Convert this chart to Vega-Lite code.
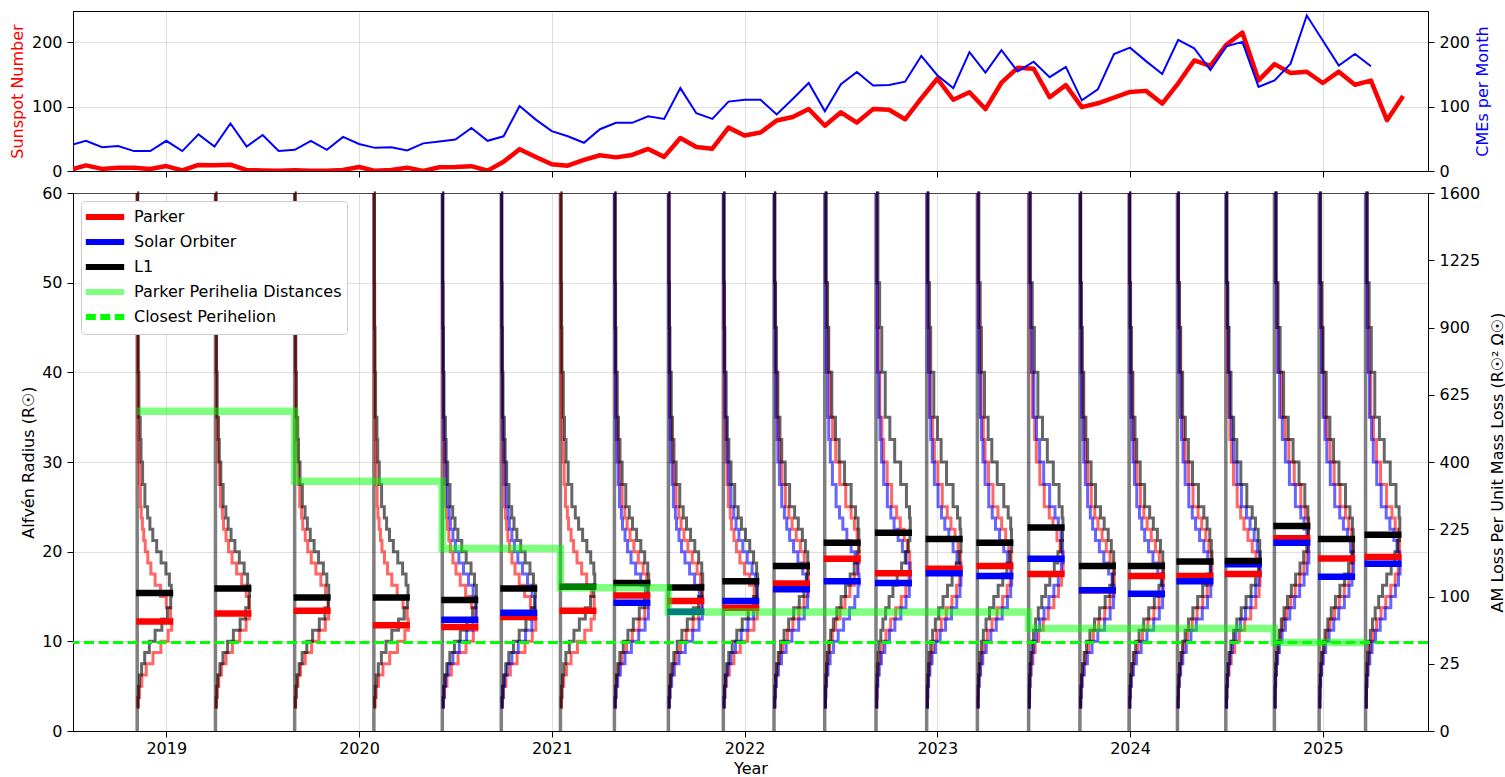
{
"$schema": "https://vega.github.io/schema/vega-lite/v6.json",
"padding": {"left": 8, "top": 10, "right": 0, "bottom": 0},
"background": "white",
"spacing": 22,
"bounds": "flush",
"resolve": {"scale": {"color": "independent", "strokeDash": "independent"}, "legend": {"color": "independent", "strokeDash": "independent"}},
"datasets": {
"ss": [{"t":[2018.5,2018.583,2018.667,2018.75,2018.833,2018.917,2019,2019.083,2019.167,2019.25,2019.333,2019.417,2019.5,2019.583,2019.667,2019.75,2019.833,2019.917,2020,2020.083,2020.167,2020.25,2020.333,2020.417,2020.5,2020.583,2020.667,2020.75,2020.833,2020.917,2021,2021.083,2021.167,2021.25,2021.333,2021.417,2021.5,2021.583,2021.667,2021.75,2021.833,2021.917,2022,2022.083,2022.167,2022.25,2022.333,2022.417,2022.5,2022.583,2022.667,2022.75,2022.833,2022.917,2023,2023.083,2023.167,2023.25,2023.333,2023.417,2023.5,2023.583,2023.667,2023.75,2023.833,2023.917,2024,2024.083,2024.167,2024.25,2024.333,2024.417,2024.5,2024.583,2024.667,2024.75,2024.833,2024.917,2025,2025.083,2025.167,2025.25,2025.333,2025.417],
"v":[1.6,8.7,3.3,4.9,4.9,3.1,7.7,0.8,9.4,9.1,9.9,1.2,0.9,0.5,1.1,0.4,0.5,1.5,6.2,0.2,1.5,5.2,0.2,5.8,6.1,7.5,0.6,14.4,34,21.8,10.4,8.2,17.2,24.5,21.2,25,34.3,22,51.3,37.4,34.8,67.5,55.3,59.9,78.5,84.1,96.5,70.5,91.4,75.4,96.3,95.4,80.5,113.1,143.6,110.9,122.6,96.4,137.4,160.5,159.1,114.8,133.6,99.4,105.4,114.2,123,124.7,104.9,136.5,172,163.6,196.6,215.5,141.1,166.3,152.5,154.5,137,154.6,134.2,140.6,79.1,116.6]}],
"cme": [{"t":[2018.5,2018.583,2018.667,2018.75,2018.833,2018.917,2019,2019.083,2019.167,2019.25,2019.333,2019.417,2019.5,2019.583,2019.667,2019.75,2019.833,2019.917,2020,2020.083,2020.167,2020.25,2020.333,2020.417,2020.5,2020.583,2020.667,2020.75,2020.833,2020.917,2021,2021.083,2021.167,2021.25,2021.333,2021.417,2021.5,2021.583,2021.667,2021.75,2021.833,2021.917,2022,2022.083,2022.167,2022.25,2022.333,2022.417,2022.5,2022.583,2022.667,2022.75,2022.833,2022.917,2023,2023.083,2023.167,2023.25,2023.333,2023.417,2023.5,2023.583,2023.667,2023.75,2023.833,2023.917,2024,2024.083,2024.167,2024.25,2024.333,2024.417,2024.5,2024.583,2024.667,2024.75,2024.833,2024.917,2025,2025.083,2025.167,2025.25],
"v":[40,47,37,39,31,31,47,31,57,38,74,38,56,31,33,47,33,53,42,36,37,32,43,46,49,67,47,54,101,80,62,54,44,65,75,75,85,81,129,90,81,108,111,111,88,112,137,93,135,154,133,134,139,179,149,129,185,153,188,155,170,146,162,110,127,182,192,171,151,204,191,157,194,201,131,141,167,242,203,164,182,163]}],
"enc": [{"t":2018.849},{"t":2019.255},{"t":2019.666},{"t":2020.077},{"t":2020.432},{"t":2020.738},{"t":2021.045},{"t":2021.325},{"t":2021.605},{"t":2021.89},{"t":2022.153},{"t":2022.416},{"t":2022.682},{"t":2022.945},{"t":2023.208},{"t":2023.474},{"t":2023.74},{"t":2023.995},{"t":2024.246},{"t":2024.497},{"t":2024.749},{"t":2024.981},{"t":2025.222}],
"peri": [{"s":"Parker Perihelia Distances","t":2018.849,"r":35.66},{"s":"Parker Perihelia Distances","t":2019.255,"r":35.66},{"s":"Parker Perihelia Distances","t":2019.666,"r":35.66},{"s":"Parker Perihelia Distances","t":2020.077,"r":27.85},{"s":"Parker Perihelia Distances","t":2020.432,"r":27.85},{"s":"Parker Perihelia Distances","t":2020.738,"r":20.35},{"s":"Parker Perihelia Distances","t":2021.045,"r":20.35},{"s":"Parker Perihelia Distances","t":2021.325,"r":15.98},{"s":"Parker Perihelia Distances","t":2021.605,"r":15.98},{"s":"Parker Perihelia Distances","t":2021.89,"r":13.28},{"s":"Parker Perihelia Distances","t":2022.153,"r":13.28},{"s":"Parker Perihelia Distances","t":2022.416,"r":13.28},{"s":"Parker Perihelia Distances","t":2022.682,"r":13.28},{"s":"Parker Perihelia Distances","t":2022.945,"r":13.28},{"s":"Parker Perihelia Distances","t":2023.208,"r":13.28},{"s":"Parker Perihelia Distances","t":2023.474,"r":13.28},{"s":"Parker Perihelia Distances","t":2023.74,"r":11.44},{"s":"Parker Perihelia Distances","t":2023.995,"r":11.44},{"s":"Parker Perihelia Distances","t":2024.246,"r":11.44},{"s":"Parker Perihelia Distances","t":2024.497,"r":11.44},{"s":"Parker Perihelia Distances","t":2024.749,"r":11.44},{"s":"Parker Perihelia Distances","t":2024.981,"r":9.86},{"s":"Parker Perihelia Distances","t":2025.222,"r":9.86}],
"closest": [{"s":"Closest Perihelion","r":9.86}],
"tpl": [
{"c":"A","r":[2.5,3.75,5,6.25,7.5,8.75,10,11.25,12.5,13.75,15,16.25,17.5,18.75,20,21.25,22.5,23.75,25,27.5,30,32.5,35,40,45,50,60],"w":[0.006,0.012,0.024,0.047,0.082,0.123,0.161,0.179,0.173,0.151,0.121,0.093,0.071,0.055,0.042,0.034,0.027,0.021,0.017,0.012,0.008,0.006,0.004,0.003,0.002,0.001,0]},
{"c":"B","r":[2.5,3.75,5,6.25,7.5,8.75,10,11.25,12.5,13.75,15,16.25,17.5,18.75,20,21.25,22.5,23.75,25,27.5,30,32.5,35,40,45,50,60],"w":[0.005,0.009,0.017,0.031,0.055,0.088,0.126,0.159,0.176,0.175,0.16,0.136,0.11,0.086,0.068,0.055,0.042,0.036,0.026,0.019,0.014,0.009,0.006,0.004,0.003,0.002,0]},
{"c":"C","r":[2.5,3.75,5,6.25,7.5,8.75,10,11.25,12.5,13.75,15,16.25,17.5,18.75,20,21.25,22.5,23.75,25,27.5,30,32.5,35,40,45,50,60],"w":[0.004,0.007,0.012,0.023,0.039,0.063,0.093,0.128,0.157,0.174,0.177,0.167,0.149,0.124,0.101,0.081,0.066,0.054,0.04,0.028,0.02,0.016,0.009,0.006,0.004,0.003,0]},
{"c":"D","r":[2.5,3.75,5,6.25,7.5,8.75,10,11.25,12.5,13.75,15,16.25,17.5,18.75,20,21.25,22.5,23.75,25,27.5,30,32.5,35,40,45,50,60],"w":[0.004,0.006,0.01,0.017,0.028,0.046,0.07,0.098,0.129,0.156,0.173,0.178,0.173,0.157,0.137,0.115,0.094,0.077,0.059,0.04,0.029,0.021,0.015,0.008,0.006,0.004,0]},
{"c":"E","r":[2.5,3.75,5,6.25,7.5,8.75,10,11.25,12.5,13.75,15,16.25,17.5,18.75,20,21.25,22.5,23.75,25,27.5,30,32.5,35,40,45,50,60],"w":[0.004,0.005,0.008,0.013,0.022,0.034,0.052,0.076,0.102,0.131,0.155,0.171,0.179,0.175,0.163,0.147,0.126,0.107,0.081,0.058,0.04,0.031,0.02,0.013,0.008,0.004,0]},
{"c":"F","r":[2.5,3.75,5,6.25,7.5,8.75,10,11.25,12.5,13.75,15,16.25,17.5,18.75,20,21.25,22.5,23.75,25,27.5,30,32.5,35,40,45,50,60],"w":[0.004,0.005,0.007,0.011,0.017,0.026,0.04,0.057,0.08,0.105,0.131,0.154,0.17,0.179,0.176,0.168,0.154,0.137,0.109,0.078,0.057,0.041,0.027,0.017,0.011,0.006,0]},
{"c":"G","r":[2.5,3.75,5,6.25,7.5,8.75,10,11.25,12.5,13.75,15,16.25,17.5,18.75,20,21.25,22.5,23.75,25,27.5,30,32.5,35,40,45,50,60],"w":[0.004,0.004,0.006,0.009,0.013,0.021,0.031,0.045,0.063,0.085,0.108,0.132,0.153,0.169,0.178,0.177,0.173,0.16,0.137,0.103,0.075,0.056,0.037,0.021,0.015,0.008,0]},
{"c":"H","r":[2.5,3.75,5,6.25,7.5,8.75,10,11.25,12.5,13.75,15,16.25,17.5,18.75,20,21.25,22.5,23.75,25,27.5,30,32.5,35,40,45,50,60],"w":[0.004,0.004,0.005,0.007,0.011,0.017,0.025,0.036,0.05,0.068,0.088,0.11,0.133,0.152,0.168,0.176,0.178,0.174,0.158,0.128,0.097,0.072,0.048,0.03,0.019,0.01,0]}
],
"hist": [
{"e":"E1","s":"Parker","t":2018.849,"c":"A"},{"e":"E1","s":"L1","t":2018.849,"c":"C"},
{"e":"E2","s":"Parker","t":2019.255,"c":"B"},{"e":"E2","s":"L1","t":2019.255,"c":"C"},
{"e":"E3","s":"Parker","t":2019.666,"c":"B"},{"e":"E3","s":"L1","t":2019.666,"c":"C"},
{"e":"E4","s":"Parker","t":2020.077,"c":"A"},{"e":"E4","s":"L1","t":2020.077,"c":"C"},
{"e":"E5","s":"Parker","t":2020.432,"c":"A"},{"e":"E5","s":"Solar Orbiter","t":2020.432,"c":"B"},{"e":"E5","s":"L1","t":2020.432,"c":"C"},
{"e":"E6","s":"Parker","t":2020.738,"c":"A"},{"e":"E6","s":"Solar Orbiter","t":2020.738,"c":"B"},{"e":"E6","s":"L1","t":2020.738,"c":"C"},
{"e":"E7","s":"Parker","t":2021.045,"c":"B"},{"e":"E7","s":"L1","t":2021.045,"c":"D"},
{"e":"E8","s":"Parker","t":2021.325,"c":"C"},{"e":"E8","s":"Solar Orbiter","t":2021.325,"c":"B"},{"e":"E8","s":"L1","t":2021.325,"c":"D"},
{"e":"E9","s":"Parker","t":2021.605,"c":"C"},{"e":"E9","s":"Solar Orbiter","t":2021.605,"c":"B"},{"e":"E9","s":"L1","t":2021.605,"c":"D"},
{"e":"E10","s":"Parker","t":2021.89,"c":"B"},{"e":"E10","s":"Solar Orbiter","t":2021.89,"c":"C"},{"e":"E10","s":"L1","t":2021.89,"c":"D"},
{"e":"E11","s":"Parker","t":2022.153,"c":"D"},{"e":"E11","s":"Solar Orbiter","t":2022.153,"c":"C"},{"e":"E11","s":"L1","t":2022.153,"c":"E"},
{"e":"E12","s":"Parker","t":2022.416,"c":"F"},{"e":"E12","s":"Solar Orbiter","t":2022.416,"c":"D"},{"e":"E12","s":"L1","t":2022.416,"c":"G"},
{"e":"E13","s":"Parker","t":2022.682,"c":"E"},{"e":"E13","s":"Solar Orbiter","t":2022.682,"c":"D"},{"e":"E13","s":"L1","t":2022.682,"c":"H"},
{"e":"E14","s":"Parker","t":2022.945,"c":"E"},{"e":"E14","s":"Solar Orbiter","t":2022.945,"c":"D"},{"e":"E14","s":"L1","t":2022.945,"c":"G"},
{"e":"E15","s":"Parker","t":2023.208,"c":"E"},{"e":"E15","s":"Solar Orbiter","t":2023.208,"c":"D"},{"e":"E15","s":"L1","t":2023.208,"c":"G"},
{"e":"E16","s":"Parker","t":2023.474,"c":"E"},{"e":"E16","s":"Solar Orbiter","t":2023.474,"c":"F"},{"e":"E16","s":"L1","t":2023.474,"c":"H"},
{"e":"E17","s":"Parker","t":2023.74,"c":"D"},{"e":"E17","s":"Solar Orbiter","t":2023.74,"c":"C"},{"e":"E17","s":"L1","t":2023.74,"c":"E"},
{"e":"E18","s":"Parker","t":2023.995,"c":"D"},{"e":"E18","s":"Solar Orbiter","t":2023.995,"c":"C"},{"e":"E18","s":"L1","t":2023.995,"c":"E"},
{"e":"E19","s":"Parker","t":2024.246,"c":"E"},{"e":"E19","s":"Solar Orbiter","t":2024.246,"c":"D"},{"e":"E19","s":"L1","t":2024.246,"c":"F"},
{"e":"E20","s":"Parker","t":2024.497,"c":"D"},{"e":"E20","s":"Solar Orbiter","t":2024.497,"c":"E"},{"e":"E20","s":"L1","t":2024.497,"c":"F"},
{"e":"E21","s":"Parker","t":2024.749,"c":"G"},{"e":"E21","s":"Solar Orbiter","t":2024.749,"c":"F"},{"e":"E21","s":"L1","t":2024.749,"c":"H"},
{"e":"E22","s":"Parker","t":2024.981,"c":"F"},{"e":"E22","s":"Solar Orbiter","t":2024.981,"c":"E"},{"e":"E22","s":"L1","t":2024.981,"c":"G"},
{"e":"E23","s":"Parker","t":2025.222,"c":"F"},{"e":"E23","s":"Solar Orbiter","t":2025.222,"c":"E"},{"e":"E23","s":"L1","t":2025.222,"c":"H"}
],
"med": [
{"e":"E1","s":"Parker","t":2018.849,"r":12.2},{"e":"E1","s":"L1","t":2018.849,"r":15.4},
{"e":"E2","s":"Parker","t":2019.255,"r":13.1},{"e":"E2","s":"L1","t":2019.255,"r":15.9},
{"e":"E3","s":"Parker","t":2019.666,"r":13.4},{"e":"E3","s":"L1","t":2019.666,"r":14.9},
{"e":"E4","s":"Parker","t":2020.077,"r":11.8},{"e":"E4","s":"L1","t":2020.077,"r":14.9},
{"e":"E5","s":"Parker","t":2020.432,"r":11.6},{"e":"E5","s":"Solar Orbiter","t":2020.432,"r":12.4},{"e":"E5","s":"L1","t":2020.432,"r":14.6},
{"e":"E6","s":"Parker","t":2020.738,"r":12.7},{"e":"E6","s":"Solar Orbiter","t":2020.738,"r":13.2},{"e":"E6","s":"L1","t":2020.738,"r":15.9},
{"e":"E7","s":"Parker","t":2021.045,"r":13.4},{"e":"E7","s":"L1","t":2021.045,"r":16.1},
{"e":"E8","s":"Parker","t":2021.325,"r":15.1},{"e":"E8","s":"Solar Orbiter","t":2021.325,"r":14.3},{"e":"E8","s":"L1","t":2021.325,"r":16.5},
{"e":"E9","s":"Parker","t":2021.605,"r":14.5},{"e":"E9","s":"Solar Orbiter","t":2021.605,"r":13.3},{"e":"E9","s":"L1","t":2021.605,"r":16.0},
{"e":"E10","s":"Parker","t":2021.89,"r":13.75},{"e":"E10","s":"Solar Orbiter","t":2021.89,"r":14.5},{"e":"E10","s":"L1","t":2021.89,"r":16.7},
{"e":"E11","s":"Parker","t":2022.153,"r":16.45},{"e":"E11","s":"Solar Orbiter","t":2022.153,"r":15.8},{"e":"E11","s":"L1","t":2022.153,"r":18.4},
{"e":"E12","s":"Parker","t":2022.416,"r":19.2},{"e":"E12","s":"Solar Orbiter","t":2022.416,"r":16.7},{"e":"E12","s":"L1","t":2022.416,"r":21.0},
{"e":"E13","s":"Parker","t":2022.682,"r":17.6},{"e":"E13","s":"Solar Orbiter","t":2022.682,"r":16.5},{"e":"E13","s":"L1","t":2022.682,"r":22.1},
{"e":"E14","s":"Parker","t":2022.945,"r":18.1},{"e":"E14","s":"Solar Orbiter","t":2022.945,"r":17.6},{"e":"E14","s":"L1","t":2022.945,"r":21.4},
{"e":"E15","s":"Parker","t":2023.208,"r":18.4},{"e":"E15","s":"Solar Orbiter","t":2023.208,"r":17.3},{"e":"E15","s":"L1","t":2023.208,"r":21.0},
{"e":"E16","s":"Parker","t":2023.474,"r":17.5},{"e":"E16","s":"Solar Orbiter","t":2023.474,"r":19.2},{"e":"E16","s":"L1","t":2023.474,"r":22.7},
{"e":"E17","s":"Parker","t":2023.74,"r":15.7},{"e":"E17","s":"Solar Orbiter","t":2023.74,"r":15.7},{"e":"E17","s":"L1","t":2023.74,"r":18.4},
{"e":"E18","s":"Parker","t":2023.995,"r":17.3},{"e":"E18","s":"Solar Orbiter","t":2023.995,"r":15.3},{"e":"E18","s":"L1","t":2023.995,"r":18.4},
{"e":"E19","s":"Parker","t":2024.246,"r":17.3},{"e":"E19","s":"Solar Orbiter","t":2024.246,"r":16.7},{"e":"E19","s":"L1","t":2024.246,"r":18.9},
{"e":"E20","s":"Parker","t":2024.497,"r":17.5},{"e":"E20","s":"Solar Orbiter","t":2024.497,"r":18.6},{"e":"E20","s":"L1","t":2024.497,"r":18.95},
{"e":"E21","s":"Parker","t":2024.749,"r":21.5},{"e":"E21","s":"Solar Orbiter","t":2024.749,"r":21.0},{"e":"E21","s":"L1","t":2024.749,"r":22.85},
{"e":"E22","s":"Parker","t":2024.981,"r":19.25},{"e":"E22","s":"Solar Orbiter","t":2024.981,"r":17.2},{"e":"E22","s":"L1","t":2024.981,"r":21.4},
{"e":"E23","s":"Parker","t":2025.222,"r":19.4},{"e":"E23","s":"Solar Orbiter","t":2025.222,"r":18.65},{"e":"E23","s":"L1","t":2025.222,"r":21.9}
]
},
"vconcat": [
{
"width": 1355, "height": 160,
"layer": [
{"data": {"name": "ss"}, "transform": [{"flatten": ["t", "v"]}],
 "mark": {"type": "line", "color": "#ff0000", "strokeWidth": 4.5, "strokeJoin": "round", "clip": true},
 "encoding": {
  "x": {"field": "t", "type": "quantitative", "title": null, "scale": {"domain": [2018.516, 2025.546], "nice": false, "zero": false},
        "axis": {"values": [2019,2020,2021,2022,2023,2024,2025], "labels": false, "title": null, "grid": true, "ticks": true}},
  "y": {"field": "v", "type": "quantitative", "title": "Sunspot Number", "scale": {"domain": [0, 249], "nice": false},
        "axis": {"orient": "left", "values": [0,100,200], "format": "d", "title": "Sunspot Number", "titleColor": "#ff0000", "titlePadding": 6, "grid": true}}
 }},
{"data": {"name": "cme"}, "transform": [{"flatten": ["t", "v"]}],
 "mark": {"type": "line", "color": "#0000ff", "strokeWidth": 2, "clip": true},
 "encoding": {
  "x": {"field": "t", "type": "quantitative", "title": null, "scale": {"domain": [2018.516, 2025.546], "nice": false, "zero": false}},
  "y": {"field": "v", "type": "quantitative", "title": "CMEs per Month", "scale": {"domain": [0, 249], "nice": false},
        "axis": {"orient": "right", "values": [0,100,200], "format": "d", "title": "CMEs per Month", "titleColor": "#0000ff", "titleAngle": 270, "titleBaseline": "top", "titlePadding": 5, "grid": false}}
 }}
],
"resolve": {"scale": {"y": "independent"}}
},
{
"width": 1355, "height": 538,
"layer": [
{"data": {"name": "enc"},
 "mark": {"type": "rule", "color": "#000000", "opacity": 0.5, "strokeWidth": 3.5},
 "encoding": {
  "x": {"field": "t", "type": "quantitative", "title": "Year", "scale": {"domain": [2018.516, 2025.546], "nice": false, "zero": false},
        "axis": {"values": [2019,2020,2021,2022,2023,2024,2025], "format": "d", "title": "Year", "grid": true, "labelPadding": 3, "titlePadding": 4}},
  "y": {"datum": 0, "type": "quantitative", "scale": {"type": "sqrt", "domain": [0, 1600], "nice": false},
        "axis": {"orient": "right", "values": [0,25,100,225,400,625,900,1225,1600], "format": "d", "title": "AM Loss Per Unit Mass Loss (R☉² Ω☉)", "titleAngle": 270, "titleBaseline": "top", "grid": false, "titlePadding": 10}},
  "y2": {"datum": 1600}
 }},
{"layer": [
 {"data": {"name": "hist"},
  "transform": [
   {"lookup": "c", "from": {"data": {"name": "tpl"}, "key": "c", "fields": ["r", "w"]}},
   {"flatten": ["r", "w"]},
   {"fold": ["t", "w"], "as": ["k", "v"]},
   {"aggregate": [{"op": "sum", "field": "v", "as": "t"}], "groupby": ["e", "s", "r"]}
  ],
  "mark": {"type": "line", "interpolate": "step-before", "strokeWidth": 3, "opacity": 0.6},
  "encoding": {
   "x": {"field": "t", "type": "quantitative", "title": "Year", "scale": {"domain": [2018.516, 2025.546], "nice": false, "zero": false}},
   "y": {"field": "r", "type": "quantitative", "title": "Alfvén Radius (R☉)", "scale": {"domain": [0, 60], "nice": false},
         "axis": {"orient": "left", "values": [0,10,20,30,40,50,60], "format": "d", "title": "Alfvén Radius (R☉)", "grid": true, "titlePadding": 5}},
   "stroke": {"field": "s", "type": "nominal", "scale": {"domain": ["Parker", "Solar Orbiter", "L1"], "range": ["#ff0000", "#0000ff", "#000000"]}, "legend": null},
   "detail": {"field": "e", "type": "nominal"},
   "order": {"field": "r", "type": "quantitative"}
  }},
 {"data": {"name": "med"},
  "mark": {"type": "tick", "orient": "horizontal", "size": 37, "thickness": 6.5, "xOffset": 17.5, "opacity": 1},
  "encoding": {
   "x": {"field": "t", "type": "quantitative", "title": "Year", "scale": {"domain": [2018.516, 2025.546], "nice": false, "zero": false}},
   "y": {"field": "r", "type": "quantitative", "title": "Alfvén Radius (R☉)", "scale": {"domain": [0, 60], "nice": false}},
   "color": {"field": "s", "type": "nominal",
    "scale": {"domain": ["Parker", "Solar Orbiter", "L1", "Parker Perihelia Distances", "Closest Perihelion"], "range": ["#ff0000", "#0000ff", "#000000", "rgba(0,255,0,0.5)", "#00ff00"]},
    "legend": {"title": null, "orient": "top-left", "offset": 8, "padding": 5, "strokeColor": "#cccccc", "fillColor": "#ffffff", "cornerRadius": 4,
      "labelFontSize": 16, "labelColor": "#000000", "labelLimit": 400, "symbolType": "M-2.4,0H2.4", "symbolSize": 256, "symbolStrokeWidth": 6,
      "symbolOffset": 8, "labelOffset": 18, "rowPadding": 1, "symbolOpacity": 1}
   }
  }},
 {"data": {"name": "peri"},
  "mark": {"type": "line", "interpolate": "step-before", "strokeWidth": 7.5},
  "encoding": {
   "x": {"field": "t", "type": "quantitative", "title": "Year", "scale": {"domain": [2018.516, 2025.546], "nice": false, "zero": false}},
   "y": {"field": "r", "type": "quantitative", "title": "Alfvén Radius (R☉)", "scale": {"domain": [0, 60], "nice": false}},
   "color": {"field": "s", "type": "nominal",
    "legend": {"title": null, "orient": "top-left", "offset": 8, "padding": 5, "strokeColor": "#cccccc", "fillColor": "#ffffff", "cornerRadius": 4,
      "labelFontSize": 16, "labelColor": "#000000", "labelLimit": 400, "symbolType": "M-2.4,0H2.4", "symbolSize": 256, "symbolStrokeWidth": 6,
      "symbolOffset": 8, "labelOffset": 18, "rowPadding": 1, "symbolOpacity": 1}},
   "strokeDash": {"field": "s", "type": "nominal",
    "scale": {"domain": ["Parker", "Solar Orbiter", "L1", "Parker Perihelia Distances", "Closest Perihelion"], "range": [[1,0],[1,0],[1,0],[1,0],[10,4.5]]},
    "legend": {"title": null, "orient": "top-left", "offset": 8, "padding": 5, "strokeColor": "#cccccc", "fillColor": "#ffffff", "cornerRadius": 4,
      "labelFontSize": 16, "labelColor": "#000000", "labelLimit": 400, "symbolType": "M-2.4,0H2.4", "symbolSize": 256, "symbolStrokeWidth": 6,
      "symbolOffset": 8, "labelOffset": 18, "rowPadding": 1, "symbolOpacity": 1}}
  }},
 {"data": {"name": "closest"},
  "mark": {"type": "rule", "strokeWidth": 3},
  "encoding": {
   "y": {"field": "r", "type": "quantitative", "title": "Alfvén Radius (R☉)", "scale": {"domain": [0, 60], "nice": false}},
   "color": {"field": "s", "type": "nominal"},
   "strokeDash": {"field": "s", "type": "nominal"}
  }}
]}
],
"resolve": {"scale": {"y": "independent"}}
}
],
"config": {
 "font": "DejaVu Sans",
 "view": {"stroke": "#000000", "strokeWidth": 1},
 "axis": {"labelFontSize": 16, "titleFontSize": 16, "titleFontWeight": "normal", "labelColor": "#000000", "titleColor": "#000000", "tickColor": "#000000", "domainColor": "#000000", "tickSize": 6, "labelPadding": 5, "gridColor": "#b0b0b0", "gridOpacity": 0.4, "labelFlush": false, "labelOverlap": false}
}
}
